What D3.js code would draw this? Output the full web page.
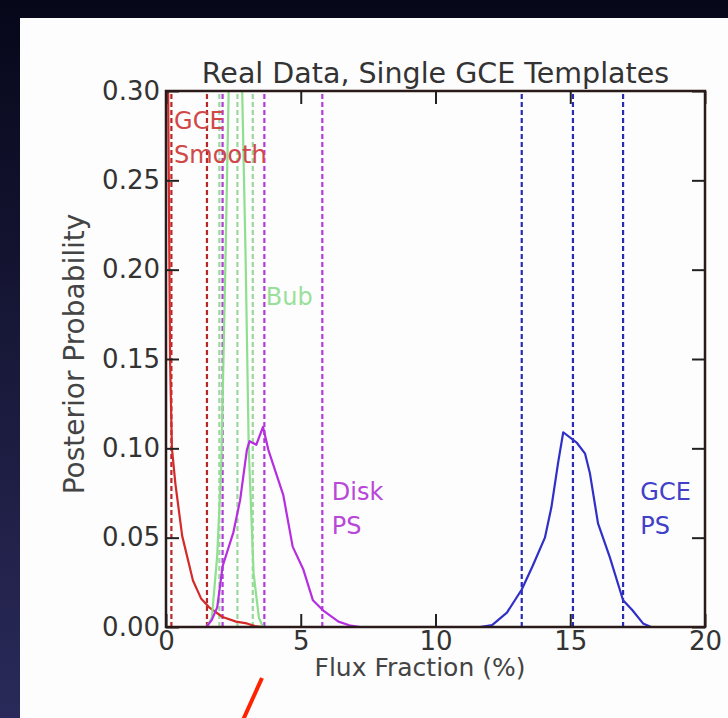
<!DOCTYPE html>
<html><head><meta charset="utf-8">
<script src="https://cdn.jsdelivr.net/npm/d3@7"></script>
<style>html,body{margin:0;padding:0;background:#000;}svg{display:block;}</style>
</head><body>
<svg id="c" width="728" height="718"></svg>
<script>
// ---- data ----
const xTicks = [0, 5, 10, 15, 20];
const yTicks = [0.00, 0.05, 0.10, 0.15, 0.20, 0.25, 0.30];
const title = "Real Data, Single GCE Templates";
const xLabel = "Flux Fraction (%)";
const yLabel = "Posterior Probability";

const gceSmooth = [[0.0,0.60],[0.08,0.30],[0.15,0.15],[0.22,0.100],[0.35,0.080],[0.6,0.051],[1.0,0.026],[1.3,0.016],[1.6,0.011],[2.1,0.0056],[2.6,0.003],[3.0,0.002],[3.3,0.0005],[3.6,0]];
const bub = [[1.5,0],[1.7,0.005],[1.9,0.04],[2.05,0.09],[2.2,0.20],[2.35,0.32],[2.6,0.46],[2.8,0.32],[2.95,0.21],[3.07,0.10],[3.25,0.03],[3.45,0.005],[3.6,0]];
const diskPS = [[1.5,0],[1.7,0.004],[1.9,0.011],[2.1,0.034],[2.5,0.053],[2.75,0.071],[3.0,0.099],[3.1,0.104],[3.35,0.102],[3.6,0.112],[3.8,0.099],[4.35,0.074],[4.7,0.045],[5.1,0.032],[5.45,0.015],[5.85,0.009],[6.4,0.003],[6.8,0.001],[7.2,0]];
const gcePS = [[11.65,0],[12.1,0.001],[12.65,0.008],[13.2,0.021],[13.6,0.034],[14.06,0.05],[14.3,0.067],[14.55,0.092],[14.74,0.109],[15.25,0.103],[15.55,0.097],[15.73,0.086],[16.03,0.058],[16.47,0.039],[16.96,0.015],[17.3,0.0095],[17.7,0.002],[18.0,0]];

const gceSmoothLines = [0.2, 1.52];
const bubLines = [1.98, 2.65, 3.22];
const diskLines = [2.1, 3.65, 5.8];
const gcePSLines = [13.2, 15.1, 16.96];

const series = [
  {name:"gceSmooth", data:gceSmooth, lines:gceSmoothLines, color:"#d42a2a", dash:"#b82828"},
  {name:"bub", data:bub, lines:bubLines, color:"#8ee08e", dash:"#9ad89a"},
  {name:"diskPS", data:diskPS, lines:diskLines, color:"#b52ee0", dash:"#b23ad8"},
  {name:"gcePS", data:gcePS, lines:gcePSLines, color:"#3030c8", dash:"#2a2ab8"}
];
const labels = [
  {text:["GCE","Smooth"], x:0.3, y:0.279, color:"#d04848"},
  {text:["Bub"], x:3.7, y:0.180, color:"#9ae09a"},
  {text:["Disk","PS"], x:6.15, y:0.071, color:"#b848d8"},
  {text:["GCE","PS"], x:17.6, y:0.071, color:"#4040c8"}
];

// ---- drawing ----
const svg = d3.select("#c");
const FONT = "DejaVu Sans";

const defs = svg.append("defs");
const grad = defs.append("linearGradient").attr("id","bg").attr("x1",0).attr("y1",0).attr("x2",0).attr("y2",1);
grad.append("stop").attr("offset","0%").attr("stop-color","#07071a");
grad.append("stop").attr("offset","100%").attr("stop-color","#2a2a5a");
svg.append("rect").attr("width",728).attr("height",718).attr("fill","url(#bg)");
svg.append("rect").attr("x",20).attr("y",18).attr("width",708).attr("height",700).attr("fill","#fdfdfd");

const L = 166, R = 705, T = 91, B = 627;
const x = d3.scaleLinear().domain([0,20]).range([L,R]);
const y = d3.scaleLinear().domain([0,0.30]).range([B,T]);

defs.append("clipPath").attr("id","clip").append("rect")
  .attr("x",L).attr("y",T).attr("width",R-L).attr("height",B-T);

const plot = svg.append("g").attr("clip-path","url(#clip)");
const line = d3.line().x(d=>x(d[0])).y(d=>y(d[1]));

series.forEach(s=>{
  plot.selectAll(null).data(s.lines).enter().append("line")
    .attr("x1",d=>x(d)).attr("x2",d=>x(d)).attr("y1",y(0)).attr("y2",y(0.30))
    .attr("stroke",s.dash).attr("stroke-width",2.2).attr("stroke-dasharray","5,3");
});
series.forEach(s=>{
  plot.append("path").datum(s.data).attr("d",line)
    .attr("fill","none").attr("stroke",s.color).attr("stroke-width",2.2).attr("stroke-linejoin","round");
});

// labels
labels.forEach(lb=>{
  const t = svg.append("text").attr("x",x(lb.x)).attr("y",y(lb.y))
    .attr("font-family",FONT).attr("font-size",24).attr("fill",lb.color);
  lb.text.forEach((s,i)=>t.append("tspan").attr("x",x(lb.x)).attr("dy",i===0?0:"1.42em").text(s));
});

// axes
const fs = 26;
const gx = svg.append("g").attr("transform",`translate(0,${B})`)
  .call(d3.axisBottom(x).tickValues(xTicks).tickSizeInner(-13).tickSizeOuter(0).tickPadding(5).tickFormat(d3.format("d")));
const gxt = svg.append("g").attr("transform",`translate(0,${T})`)
  .call(d3.axisTop(x).tickValues(xTicks).tickSizeInner(-13).tickSizeOuter(0).tickFormat(""));
const gy = svg.append("g").attr("transform",`translate(${L},0)`)
  .call(d3.axisLeft(y).tickValues(yTicks).tickSizeInner(-13).tickSizeOuter(0).tickPadding(6).tickFormat(d3.format(".2f")));
const gyr = svg.append("g").attr("transform",`translate(${R},0)`)
  .call(d3.axisRight(y).tickValues(yTicks).tickSizeInner(-13).tickSizeOuter(0).tickFormat(""));
[gx,gxt,gy,gyr].forEach(g=>{
  g.select(".domain").remove();
  g.selectAll(".tick line").attr("stroke","#222").attr("stroke-width",2);
  g.selectAll("text").attr("font-family",FONT).attr("font-size",fs).attr("fill","#333");
});
gx.selectAll(".tick text").attr("dy","0.68em");
svg.append("rect").attr("x",L).attr("y",T).attr("width",R-L).attr("height",B-T)
  .attr("fill","none").attr("stroke","#2a1a1a").attr("stroke-width",2.5);

// titles
svg.append("text").attr("x",(L+R)/2).attr("y",83).attr("text-anchor","middle")
  .attr("font-family",FONT).attr("font-size",28.5).attr("fill","#333").text(title);
svg.append("text").attr("x",420).attr("y",676).attr("text-anchor","middle")
  .attr("font-family",FONT).attr("font-size",25).attr("fill","#444").text(xLabel);
svg.append("text").attr("transform",`translate(84,${(T+B)/2 - 5}) rotate(-90)`).attr("text-anchor","middle")
  .attr("font-family",FONT).attr("font-size",28).attr("fill","#444").text(yLabel);

// red annotation stroke
svg.append("line").attr("x1",262).attr("y1",678).attr("x2",243).attr("y2",720)
  .attr("stroke","#ff2200").attr("stroke-width",4);
</script>
</body></html>
